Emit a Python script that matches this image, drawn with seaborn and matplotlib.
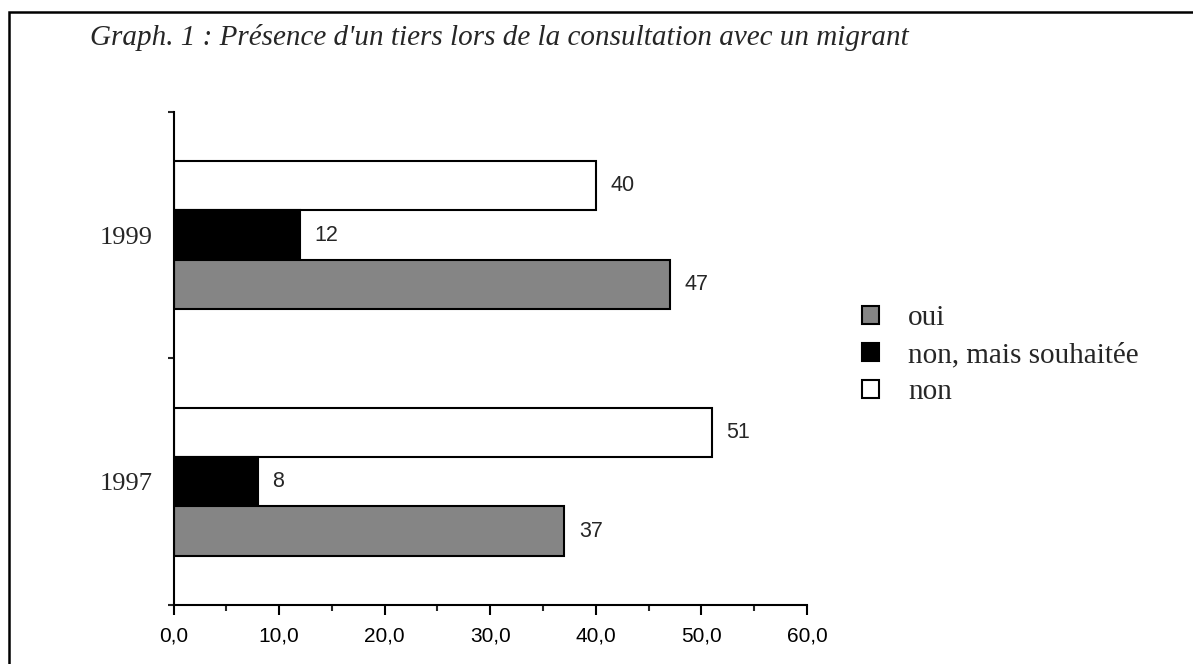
import matplotlib
matplotlib.use("Agg")
import matplotlib.pyplot as plt
from matplotlib.patches import Patch, Rectangle
import seaborn as sns
import pandas as pd

# ---- data ----
years = ["1999", "1997"]
series_names = ["non", "non, mais souhaitée", "oui"]
non = [40, 51]
non_mais = [12, 8]
oui = [47, 37]
xtick_values = [0, 10, 20, 30, 40, 50, 60]
xtick_labels = ["0,0", "10,0", "20,0", "30,0", "40,0", "50,0", "60,0"]
title = "Graph. 1 : Présence d'un tiers lors de la consultation avec un migrant"
legend_order = ["oui", "non, mais souhaitée", "non"]

rows = []
for name, vals in zip(series_names, [non, non_mais, oui]):
    for y, v in zip(years, vals):
        rows.append({"annee": y, "reponse": name, "valeur": v})
df = pd.DataFrame(rows)

palette = {"non": "#ffffff", "non, mais souhaitée": "#000000", "oui": "#858585"}

sns.set_style("white")
plt.rcParams["font.family"] = ["Liberation Sans", "DejaVu Sans"]

W, H = 1193, 664
fig = plt.figure(figsize=(W / 100, H / 100), dpi=100)
ax = fig.add_axes([173.5 / W, 1 - 605 / H, (807 - 173.5) / W, (605 - 111.7) / H])

sns.barplot(data=df, y="annee", x="valeur", hue="reponse", order=years,
            hue_order=series_names, palette=palette, orient="h", width=0.6,
            saturation=1, edgecolor="black", linewidth=1.5, legend=False,
            errorbar=None, ax=ax)

for cont in ax.containers:
    ax.bar_label(cont, fmt="%d", padding=10.5, fontsize=15.5,
                 family=["Liberation Sans", "DejaVu Sans"])

ax.set_xlim(0, 60)
ax.set_ylim(1.5, -0.5)
ax.set_xlabel("")
ax.set_ylabel("")
for s in ["top", "right"]:
    ax.spines[s].set_visible(False)
for s in ["left", "bottom"]:
    ax.spines[s].set_linewidth(1.5)
    ax.spines[s].set_color("black")

ax.set_xticks(xtick_values)
ax.set_xticklabels(xtick_labels, fontsize=15)
ax.set_xticks([5, 15, 25, 35, 45, 55], minor=True)
ax.tick_params(axis="x", which="major", direction="out", length=7, width=1.5,
               pad=8.5, bottom=True, colors="black")
ax.tick_params(axis="x", which="minor", direction="out", length=4, width=1.5,
               bottom=True)

ax.set_yticks([0, 1])
ax.set_yticklabels(years, fontsize=19, family=["Liberation Serif", "DejaVu Serif"])
ax.set_yticks([-0.5, 0.5, 1.5], minor=True)
ax.tick_params(axis="y", which="major", length=0, pad=15)
ax.tick_params(axis="y", which="minor", direction="out", length=4.5, width=1.5,
               left=True)

handles = [Patch(facecolor=palette[n], edgecolor="black", linewidth=1.5)
           for n in legend_order]
fig.legend(handles, legend_order, loc="upper left",
           bbox_to_anchor=(862 / W, 1 - 305 / H), frameon=False,
           borderpad=0, borderaxespad=0, handlelength=0.58, handleheight=0.58,
           handletextpad=1.0, labelspacing=0.38,
           prop={"family": ["Liberation Serif", "DejaVu Serif"], "size": 21})

fig.text(90 / W, 1 - 45 / H, title, ha="left", va="baseline", fontsize=21,
         style="italic", family=["Liberation Serif", "DejaVu Serif"])

fig.add_artist(Rectangle((9 / W, -0.1), 1.2, 1.1 - 12 / H, transform=fig.transFigure,
                         fill=False, edgecolor="black", linewidth=1.8,
                         clip_on=False))

fig.savefig("out.png", dpi=100)
